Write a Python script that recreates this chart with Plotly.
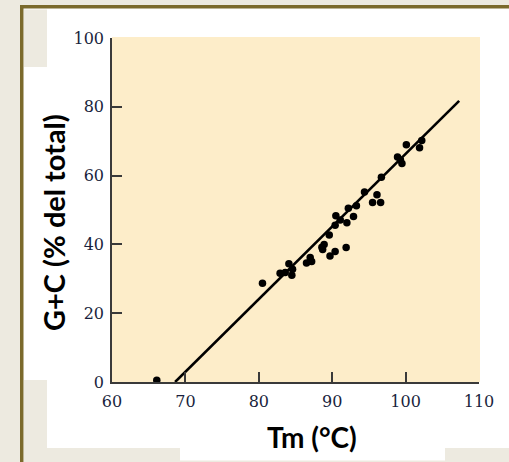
import plotly.graph_objects as go

# ---- data ----
tm_values = [66.1, 80.5, 82.9, 83.6, 84.1, 84.6, 84.5, 86.5, 87.2, 87.0,
             88.6, 88.9, 88.7, 89.6, 89.7, 90.4, 91.9, 90.4, 90.5, 91.1,
             92.0, 92.2, 92.9, 93.3, 94.4, 96.1, 95.5, 96.6, 96.7, 98.9,
             99.3, 99.5, 100.1, 101.9, 102.2]
gc_values = [0.5, 28.7, 31.6, 31.8, 34.4, 32.8, 31.0, 34.6, 35.0, 36.2,
             39.2, 40.0, 38.5, 42.7, 36.6, 37.9, 39.1, 45.6, 48.3, 47.1,
             46.3, 50.5, 48.1, 51.2, 55.2, 54.4, 52.2, 52.2, 59.5, 65.4,
             64.5, 63.5, 69.0, 68.1, 70.2]
fit_x = [68.6, 107.3]
fit_y = [0.0, 81.7]
x_ticks = [60, 70, 80, 90, 100, 110]
y_ticks = [0, 20, 40, 60, 80, 100]
x_title = "Tm (°C)"
y_title = "G+C (% del total)"

# ---- layout geometry (pixels) ----
W, H = 509, 462
L, R, T, B = 112, 30, 38, 80
PW, PH = W - L - R, H - T - B


def fx(px):
    return (px - L) / PW


def fy(py):
    return (H - B - py) / PH


BEIGE = "#edeae0"
OLIVE = "#7b6a2c"
AXIS = "#3a3a3a"
PLOTBG = "#fdedc9"

fig = go.Figure()
fig.add_trace(go.Scatter(x=fit_x, y=fit_y, mode="lines",
                         line=dict(color="black", width=2.6),
                         hoverinfo="skip", cliponaxis=False))
fig.add_trace(go.Scatter(x=tm_values, y=gc_values, mode="markers",
                         marker=dict(color="black", size=7.5),
                         cliponaxis=False))


def rect(x0, y0, x1, y1, color):
    return dict(type="rect", xref="paper", yref="paper", layer="below",
                x0=fx(x0), x1=fx(x1), y0=fy(y1), y1=fy(y0),
                fillcolor=color, line=dict(width=0))


shapes = [
    rect(20, 5, 530, 480, "white"),
    rect(20, 5, 530, 8.5, OLIVE),
    rect(20, 5, 23.5, 480, OLIVE),
    rect(24, 9.5, 47, 67, BEIGE),
    rect(24, 380, 47, 480, BEIGE),
    rect(24, 448, 180, 480, BEIGE),
    rect(445, 448, 530, 480, BEIGE),
    rect(24, 460.5, 530, 480, BEIGE),
    rect(112, 37, 480, 382, PLOTBG),
]

annotations = [
    dict(text=x_title, xref="paper", yref="paper", x=fx(311.5), y=fy(437),
         xanchor="center", yanchor="middle", showarrow=False,
         font=dict(family="Lato", size=28, color="black", weight="bold")),
    dict(text=y_title, xref="paper", yref="paper", x=fx(53), y=fy(223),
         xanchor="center", yanchor="middle", showarrow=False, textangle=-90,
         font=dict(family="Lato", size=29, color="black", weight="bold")),
]

axis_common = dict(showline=True, linecolor=AXIS, linewidth=1.5,
                   ticks="inside", ticklen=10, tickwidth=1.5, tickcolor=AXIS,
                   showgrid=False, zeroline=False,
                   tickfont=dict(family="DejaVu Serif", size=16, color="#1a1f3d"))

fig.update_layout(
    width=W, height=H,
    margin=dict(l=L, r=R, t=T, b=B, pad=0),
    paper_bgcolor=BEIGE,
    plot_bgcolor=PLOTBG,
    showlegend=False,
    shapes=shapes,
    annotations=annotations,
    xaxis=dict(range=[60, 110], tickvals=x_ticks, ticklabelstandoff=4,
               **axis_common),
    yaxis=dict(range=[0, 100], tickvals=y_ticks, ticklabelstandoff=3,
               **axis_common),
)

fig.write_html("out.html",
               config={"displayModeBar": False},
               post_script="document.body.style.margin='0';"
                           "document.body.style.overflow='hidden';")
